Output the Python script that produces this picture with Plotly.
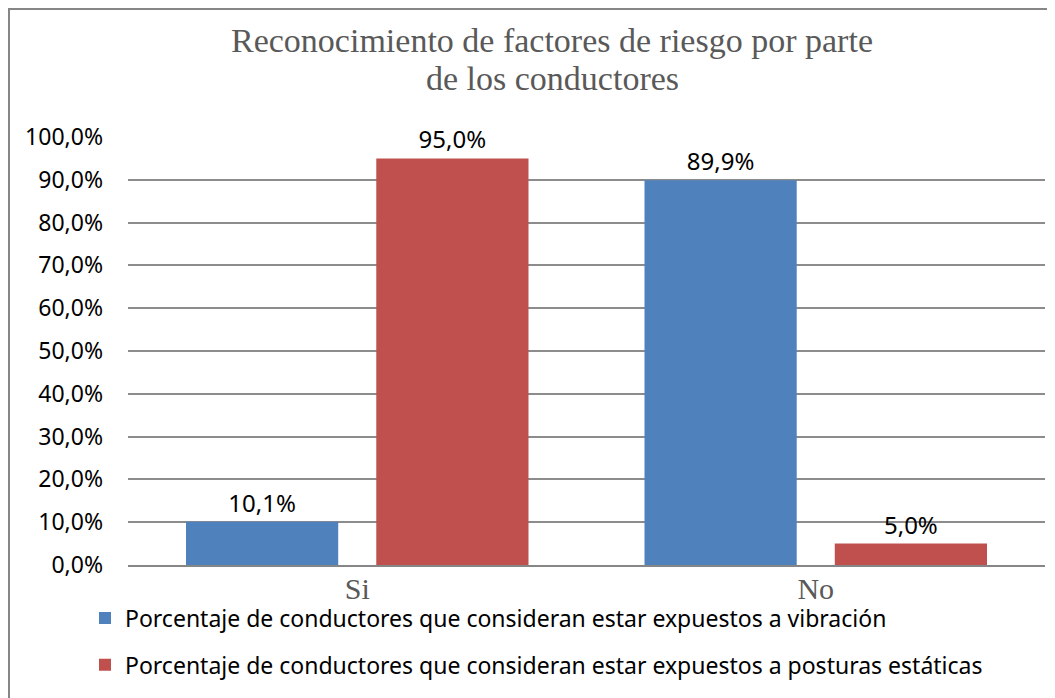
import plotly.graph_objects as go

categories = ["Si", "No"]
series_names = [
    "Porcentaje de conductores que consideran estar expuestos a vibración",
    "Porcentaje de conductores que consideran estar expuestos a posturas estáticas",
]
vibracion = [0.101, 0.899]
posturas = [0.950, 0.050]
colors = ["#4F81BD", "#C0504D"]
tick_vals = [i / 10 for i in range(11)]
title_lines = ["Reconocimiento de factores de riesgo por parte", "de los conductores"]

# the page body adds an 8px margin, so the figure is 8px smaller than the window
W, H = 1047, 690
L, R, T, B = 120, 10, 129, 133
pw, ph = W - L - R, H - T - B

fig = go.Figure()
for name, vals, col, grp in zip(series_names, [vibracion, posturas], colors, ["a", "b"]):
    fig.add_trace(go.Bar(
        x=categories, y=vals, name=name, marker=dict(color=col, line=dict(width=0)),
        texttemplate="%{y:.1%}", textposition="outside",
        textfont=dict(family="Noto Sans", size=24, color="#000000"),
        cliponaxis=False, legendgroup=grp,
    ))

fig.update_layout(
    width=W, height=H,
    margin=dict(l=L, r=R, t=T, b=B),
    paper_bgcolor="white", plot_bgcolor="white",
    separators=", ",
    barmode="group", bargap=0.17, bargroupgap=0.2,
    xaxis=dict(
        showgrid=False, showline=True, linecolor="#868686", linewidth=2,
        ticks="", tickfont=dict(family="Liberation Serif", size=30, color="#595959"),
        ticklabelstandoff=-4,
    ),
    yaxis=dict(
        range=[0, 1], tickvals=tick_vals, tickformat=".1%",
        showgrid=True, gridcolor="#8c8c8c", gridwidth=1.5,
        zeroline=False, showline=False, ticks="",
        tickfont=dict(family="Noto Sans", size=23, color="#000000"),
        ticklabelstandoff=24,
    ),
    legend=dict(
        orientation="v", x=(77 - L) / pw, xanchor="left", y=-0.0736, yanchor="top",
        font=dict(family="Noto Sans", size=23, color="#000000"),
        tracegroupgap=14, traceorder="grouped", bgcolor="rgba(0,0,0,0)",
    ),
    showlegend=True,
)

# title, two lines with tight line spacing
for line, ypx in zip(title_lines, [33, 71]):
    fig.add_annotation(
        text=line, xref="paper", yref="paper",
        x=(544 - L) / pw, y=(H - B - ypx) / ph, xanchor="center", yanchor="middle",
        showarrow=False, font=dict(family="Liberation Serif", size=34, color="#595959"),
    )

# outer chart border (top and left edges visible in reference)
fig.add_shape(
    type="rect", xref="paper", yref="paper",
    x0=(1 - L) / pw, x1=(W + 20 - L) / pw,
    y0=-(B + 20) / ph, y1=(H - B - 1) / ph,
    line=dict(color="#868686", width=2), fillcolor="rgba(0,0,0,0)", layer="below",
)

fig.write_html("out.html")
